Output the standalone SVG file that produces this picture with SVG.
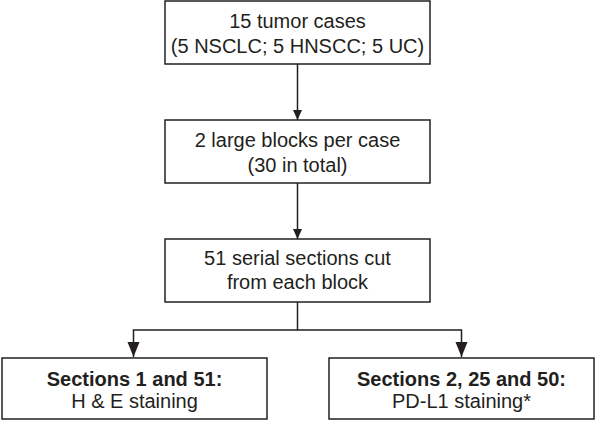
<svg xmlns="http://www.w3.org/2000/svg" width="596" height="422" viewBox="0 0 596 422">
<defs>
<style>
.box{fill:#fff;stroke:#231f20;stroke-width:1.5}
.t{font-family:"Liberation Sans",Arial,Helvetica,sans-serif;font-size:20px;fill:#231f20;text-anchor:middle}
.b{font-weight:bold}
.ln{fill:none;stroke:#231f20;stroke-width:1.5}
</style>
<marker id="as" markerUnits="userSpaceOnUse" markerWidth="10" markerHeight="10" viewBox="0 0 10 10" refX="10" refY="5" orient="auto">
<path d="M0,0.5 L10,5 L0,9.5 Z" fill="#231f20"/>
</marker>
<marker id="al" markerUnits="userSpaceOnUse" markerWidth="15" markerHeight="13" viewBox="0 0 15 13" refX="15" refY="6.5" orient="auto">
<path d="M0,0.5 L15,6.5 L0,12.5 Z" fill="#231f20"/>
</marker>
</defs>
<rect width="596" height="422" fill="#fff"/>
<g id="connectors">
<line class="ln" x1="297.5" y1="64" x2="297.5" y2="120" marker-end="url(#as)"/>
<line class="ln" x1="297.5" y1="183" x2="297.5" y2="239" marker-end="url(#as)"/>
<polyline class="ln" points="297.5,302 297.5,330 133.5,330 133.5,357" marker-end="url(#al)"/>
<polyline class="ln" points="297.5,330 461.5,330 461.5,357" marker-end="url(#al)"/>
</g>
<g id="n1">
<rect class="box" x="165" y="1" width="265" height="63"/>
<text class="t" x="297.5" y="28">15 tumor cases</text>
<text class="t" x="297.5" y="53">(5 NSCLC; 5 HNSCC; 5 UC)</text>
</g>
<g id="n2">
<rect class="box" x="165" y="120" width="265" height="63"/>
<text class="t" x="297.5" y="147">2 large blocks per case</text>
<text class="t" x="297.5" y="172">(30 in total)</text>
</g>
<g id="n3">
<rect class="box" x="165" y="239" width="265" height="63"/>
<text class="t" x="297.5" y="265">51 serial sections cut</text>
<text class="t" x="297.5" y="289">from each block</text>
</g>
<g id="n4">
<rect class="box" x="2" y="358" width="265" height="61"/>
<text class="t b" x="134.5" y="386">Sections 1 and 51:</text>
<text class="t" x="134.5" y="408">H &amp; E staining</text>
</g>
<g id="n5">
<rect class="box" x="329" y="358" width="265" height="61"/>
<text class="t b" x="461.5" y="386">Sections 2, 25 and 50:</text>
<text class="t" x="461.5" y="408">PD-L1 staining*</text>
</g>
</svg>
